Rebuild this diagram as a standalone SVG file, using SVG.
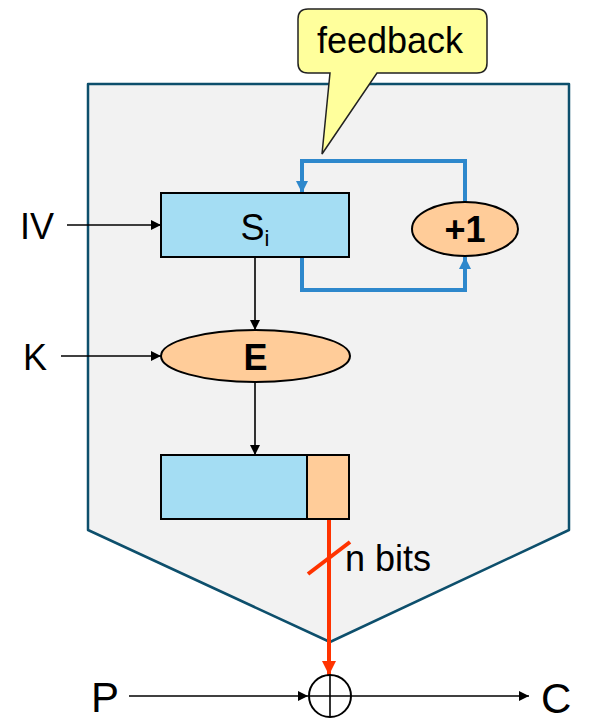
<svg xmlns="http://www.w3.org/2000/svg" width="602" height="728" viewBox="0 0 602 728">
<style>
text{font-family:"Liberation Sans",Arial,sans-serif;fill:#000}
.lbl{font-size:36px}
.big{font-size:42px}
.b{font-weight:bold}
.box{stroke:#000;stroke-width:2}
.blu{fill:#A4DDF3}
.org{fill:#FFCC99}
.ln{stroke:#000;stroke-width:1.6;fill:none}
.fb{stroke:#2E88CC;stroke-width:4;fill:none}
</style>
<defs>
<marker id="ab" viewBox="0 0 10 10" refX="10" refY="5" markerWidth="10" markerHeight="10" markerUnits="userSpaceOnUse" orient="auto"><path d="M0,0L10,5L0,10z" fill="#000"/></marker>
<marker id="abl" viewBox="0 0 10 10" refX="10" refY="5" markerWidth="12" markerHeight="12" markerUnits="userSpaceOnUse" orient="auto"><path d="M0,0L10,5L0,10z" fill="#2E88CC"/></marker>
<marker id="ar" viewBox="0 0 10 10" refX="10" refY="5" markerWidth="14" markerHeight="14" markerUnits="userSpaceOnUse" orient="auto"><path d="M0,0L10,5L0,10z" fill="#FF3300"/></marker>
</defs>
<g id="frame">
<path d="M88,84 H569 V530 L330,642 L88,530 Z" fill="#F2F2F2" stroke="#0D4F6C" stroke-width="2.5" stroke-linejoin="round"/>
</g>
<g id="callout">
<path d="M308,9 H477 Q487,9 487,19 V63 Q487,73 477,73 H377 L322,154 L330,73 H308 Q298,73 298,63 V19 Q298,9 308,9 Z" fill="#FFFF9C" stroke="#222" stroke-width="1.5"/>
<text class="lbl" x="390" y="53" text-anchor="middle">feedback</text>
</g>
<g id="connectors">
<path class="fb" d="M302,257 V290 H465 V257" marker-end="url(#abl)"/>
<path class="fb" d="M465,202 V161 H302 V193" marker-end="url(#abl)"/>
<line class="ln" x1="67" y1="225" x2="161" y2="225" marker-end="url(#ab)"/>
<line class="ln" x1="61" y1="356" x2="161" y2="356" marker-end="url(#ab)"/>
<line class="ln" x1="255" y1="257" x2="255" y2="330" marker-end="url(#ab)"/>
<line class="ln" x1="255" y1="382" x2="255" y2="455" marker-end="url(#ab)"/>
<line x1="329" y1="519" x2="329" y2="675" stroke="#FF3300" stroke-width="4" marker-end="url(#ar)"/>
<line x1="308" y1="574" x2="350" y2="542" stroke="#FF3300" stroke-width="4"/>
<line class="ln" x1="129" y1="696" x2="308" y2="696" marker-end="url(#ab)"/>
<line class="ln" x1="351" y1="696" x2="529" y2="696" marker-end="url(#ab)"/>
</g>
<g id="iv"><text class="lbl" x="20" y="239">IV</text></g>
<g id="k"><text class="lbl" x="23" y="370">K</text></g>
<g id="si">
<rect class="box blu" x="161" y="193" width="188" height="64"/>
<text class="lbl" x="255" y="240" text-anchor="middle">S<tspan font-size="22" dy="6">i</tspan></text>
</g>
<g id="plus1">
<ellipse class="box org" cx="465" cy="229" rx="53" ry="27"/>
<text class="lbl b" x="465" y="242" text-anchor="middle">+1</text>
</g>
<g id="e">
<ellipse class="box org" cx="255.5" cy="356" rx="94.5" ry="26"/>
<text class="lbl b" x="255.5" y="370" text-anchor="middle">E</text>
</g>
<g id="output">
<rect class="box blu" x="161" y="455" width="146" height="64"/>
<rect class="box org" x="307" y="455" width="42" height="64"/>
</g>
<g id="nbits"><text class="lbl" x="345" y="571">n bits</text></g>
<g id="xor">
<circle cx="330" cy="696" r="21" fill="none" stroke="#000" stroke-width="2"/>
<line x1="309" y1="696" x2="351" y2="696" stroke="#000" stroke-width="1.6"/>
<line x1="330" y1="675" x2="330" y2="717" stroke="#000" stroke-width="1.6"/>
</g>
<g id="p"><text class="big" x="91" y="712">P</text></g>
<g id="c"><text class="big" x="541" y="713">C</text></g>
</svg>
